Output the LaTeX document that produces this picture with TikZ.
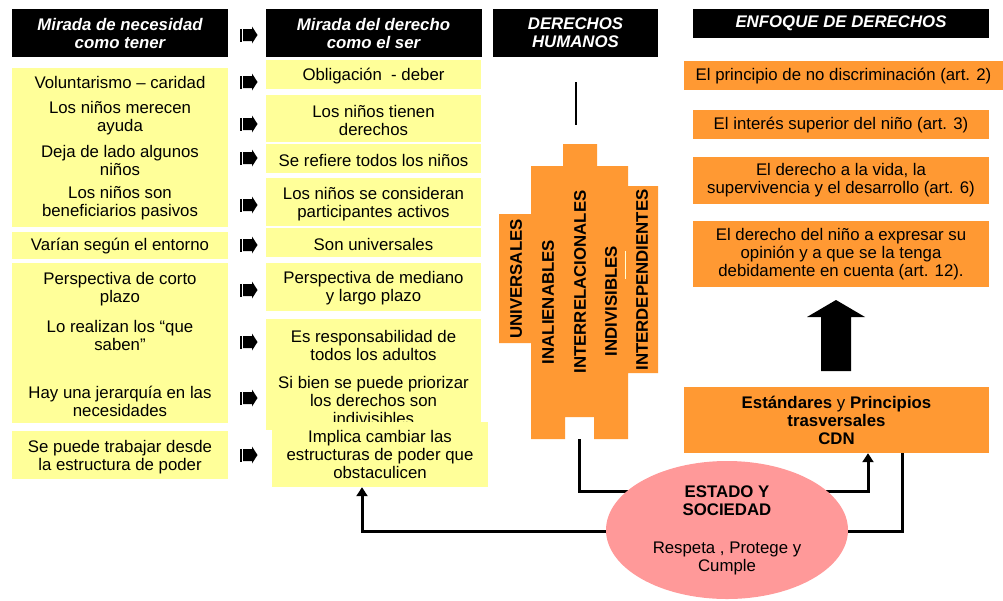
\documentclass[tikz,border=0pt]{standalone}
\usepackage{fontspec}
\setmainfont{Liberation Sans}
\usepackage{tikz}
\usetikzlibrary{shapes.geometric,arrows.meta,positioning}

\definecolor{lightyel}{HTML}{FFFF99}
\definecolor{orangefill}{HTML}{FF9933}
\definecolor{pinkfill}{HTML}{FF9999}
\newcommand{\diagfont}{\fontsize{16.8}{18}\selectfont}

\tikzset{
	rowarrow/.pic = {
		\fill (0,-6.5) rectangle (2,6.5);
		\fill (3,-6) -- (12,-6) -- (12,-8.5) -- (17.5,0) -- (12,8.5) -- (12,6) -- (3,6) -- cycle;
	}
}

\begin{document}
\begin{tikzpicture}
	[
		x=1pt, y=-1pt,
		H/.style = {rectangle, align=center, fill=black, text=white, font=\diagfont\bfseries\itshape, inner sep=0},
		T/.style = {rectangle, align=center, draw=none, fill=none, font=\diagfont, inner sep=0},
		O/.style = {rectangle, align=center, fill=orangefill, font=\diagfont, inner sep=0},
		V/.style = {rotate=90, font=\diagfont\bfseries, inner sep=0},
		link/.style = {line width=3pt, -{Triangle[length=9pt,width=11pt]}},
	]

	\useasboundingbox (0,0) rectangle (1003,600);

	% headers
	\node[H, minimum width=216, minimum height=48] (hneed) 	at ( 120.0,  33.0 ) {Mirada de necesidad\\como tener};
	\node[H, minimum width=216, minimum height=48] (hright) 	at ( 373.5,  33.0 ) {Mirada del derecho\\como el ser};
	\node[H, minimum width=165, minimum height=48] (hdh) 	at ( 575.5,  33.0 ) {DERECHOS\\HUMANOS};
	\node[H, minimum width=296, minimum height=29, text depth=3pt] (henf) 	at ( 841.0,  23.5 ) {ENFOQUE DE DERECHOS};

	% yellow backgrounds
	\foreach \xa/\ya/\xb/\yb in {12/68/228/227, 12/232/228/259, 12/263/228/423, 12/431/228/479,
		266/60/481/89, 266/95/481/142, 266/144/481/173, 266/178/481/226,
		266/228/481/257, 266/263/481/311, 266/319/481/430}
	\fill[lightyel] (\xa,\ya) rectangle (\xb,\yb);

	% left column
	\node[T] (l1) 	at ( 120.0,  82.0 ) {Voluntarismo – caridad};
	\node[T] (l2) 	at ( 120.0, 118.0 ) {Los niños merecen\\ayuda};
	\node[T] (l3) 	at ( 120.0, 160.0 ) {Deja de lado algunos\\niños};
	\node[T] (l4) 	at ( 120.0, 203.5 ) {Los niños son\\beneficiarios pasivos};
	\node[T] (l5) 	at ( 120.0, 246.0 ) {Varían según el entorno};
	\node[T] (l6) 	at ( 120.0, 289.0 ) {Perspectiva de corto\\plazo};
	\node[T] (l7) 	at ( 120.0, 335.5 ) {Lo realizan los “que\\saben”};
	\node[T] (l8) 	at ( 120.0, 401.0 ) {Hay una jerarquía en las\\necesidades};
	\node[T] (l9) 	at ( 120.0, 457.0 ) {Se puede trabajar desde\\la estructura de poder};

	% right column
	\node[T] (r1) 	at ( 373.5,  76.0 ) {Obligación\ \ - deber};
	\node[T] (r2) 	at ( 373.5, 120.0 ) {Los niños tienen\\derechos};
	\node[T] (r3) 	at ( 373.5, 160.0 ) {Se refiere todos los niños};
	\node[T] (r4) 	at ( 373.5, 204.0 ) {Los niños se consideran\\participantes activos};
	\node[T] (r5) 	at ( 373.5, 244.0 ) {Son universales};
	\node[T] (r6) 	at ( 373.5, 288.5 ) {Perspectiva de mediano\\y largo plazo};
	\node[T] (r7) 	at ( 373.5, 345.0 ) {Es responsabilidad de\\todos los adultos};
	\node[T] (r8) 	at ( 373.5, 400.5 ) {Si bien se puede priorizar\\los derechos son\\indivisibles};
	\node[T, fill=lightyel, minimum width=216, minimum height=65] (r9) 	at ( 380.0, 454.5 ) {Implica cambiar las\\estructuras de poder que\\obstaculicen};

	% small arrows between the columns
	\foreach \y in {35,82,124,158,205,245,290,342,398,455}
	\pic at (240,\y) {rowarrow};

	% human rights block
	\draw[line width=2pt] (576,82) -- (576,125);
	\fill[orangefill] (499,214) -- (531,214) -- (531,166) -- (563,166) -- (563,144) -- (597,144)
		-- (597,166) -- (628,166) -- (628,186) -- (658,186) -- (658,373) -- (628,373) -- (628,439)
		-- (594,439) -- (594,417) -- (565,417) -- (565,439) -- (531,439) -- (531,343) -- (499,343) -- cycle;
	\draw[color=lightyel!40, line width=1pt] (625,251) -- (625,279);
	\node[V] (v1) 	at ( 516, 279 ) {UNIVERSALES};
	\node[V] (v2) 	at ( 548, 302 ) {INALIENABLES};
	\node[V] (v3) 	at ( 580, 282 ) {INTERRELACIONALES};
	\node[V] (v4) 	at ( 611, 301 ) {INDIVISIBLES};
	\node[V] (v5) 	at ( 642, 280 ) {INTERDEPENDIENTES};
	\coordinate (dhbot) at (579,439);

	% rights approach
	\node[O, minimum width=319, minimum height=29, text depth=2pt] (o1) 	at ( 843.5,  75.5 ) {El principio de no discriminación (art. 2)};
	\node[O, minimum width=296, minimum height=29, text depth=2pt] (o2) 	at ( 841.0, 124.5 ) {El interés superior del niño (art. 3)};
	\node[O, minimum width=296, minimum height=47] (o3) 	at ( 841.0, 180.5 ) {El derecho a la vida, la\\supervivencia y el desarrollo (art. 6)};
	\node[O, minimum width=296, minimum height=66] (o4) 	at ( 841.0, 254.0 ) {El derecho del niño a expresar su\\opinión y a que se la tenga\\debidamente en cuenta (art. 12).};
	\node[O, minimum width=305, minimum height=66] (est) 	at ( 836.5, 420.0 ) {\textbf{Estándares} y \textbf{Principios}\\\textbf{trasversales}\\\textbf{CDN}};
	\fill (836,300) -- (865,317) -- (851,317) -- (851,371) -- (821,371) -- (821,317) -- (807,317) -- cycle;

	% connectors
	\draw[link] (dhbot) -- (579,491) -| ([xshift=31.5]est.south);
	\draw[link] ([xshift=66]est.south) -- ++(0,78) -| ([xshift=-18]r9.south);

	% state and society
	\node[ellipse, fill=pinkfill, align=center, font=\diagfont, inner sep=0, minimum width=242, minimum height=138] (edo) 	at ( 727, 530 )
		{\textbf{ESTADO Y}\\\textbf{SOCIEDAD}\\[20pt]Respeta , Protege y\\Cumple};

\end{tikzpicture}
\end{document}
